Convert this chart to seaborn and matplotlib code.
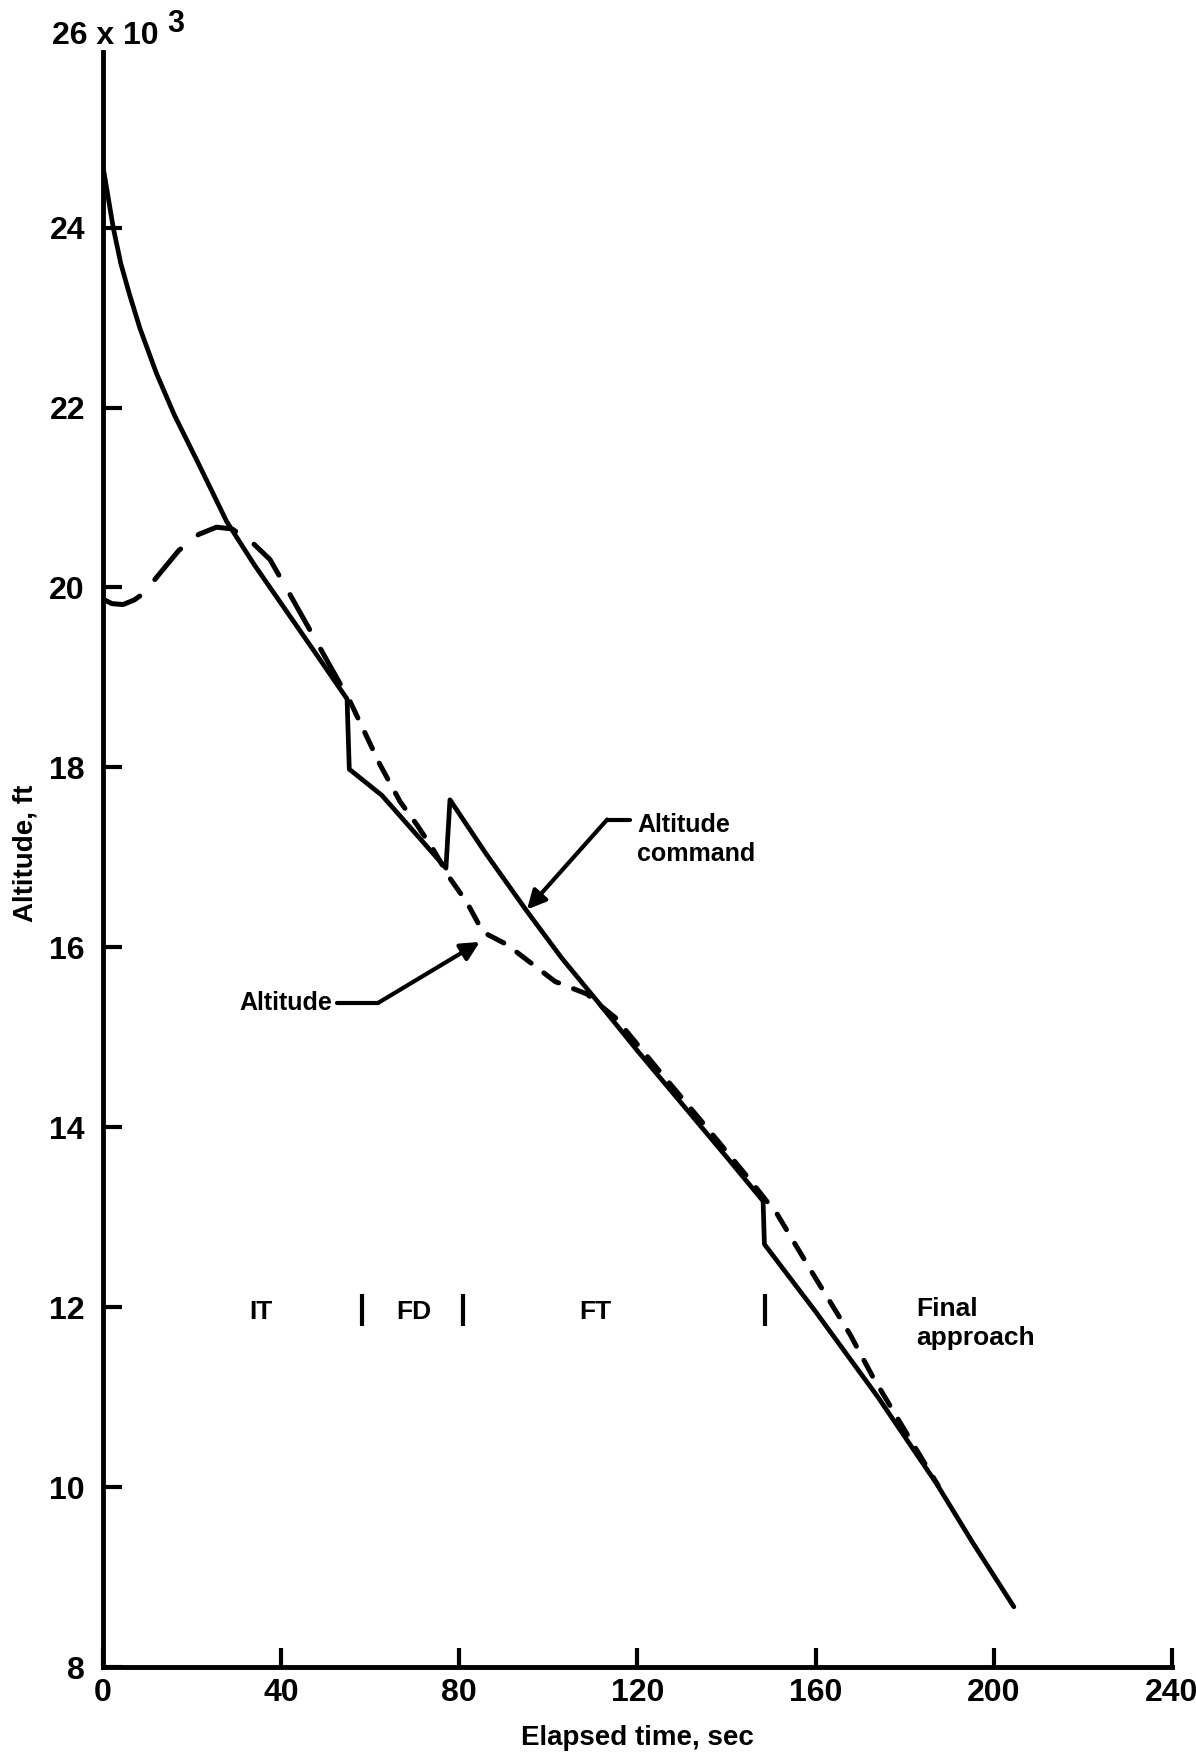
import matplotlib
matplotlib.use("Agg")
import matplotlib.pyplot as plt
import seaborn as sns

# elapsed time (sec) and altitude (thousands of ft)
cmd_time = [0.2, 2.3, 4, 6, 8.3, 12, 16, 21.8, 27.8, 34, 41, 48, 54.8, 55.3,
            62.6, 69.2, 77.0, 77.9, 86, 95.2, 103, 111, 120, 130, 140, 148.2,
            148.5, 160, 174, 187, 195.3, 204.5]
cmd_alt = [24.62, 24.0, 23.6, 23.25, 22.88, 22.38, 21.92, 21.34, 20.73, 20.25,
           19.75, 19.25, 18.76, 17.98, 17.69, 17.32, 16.88, 17.64, 17.04, 16.40,
           15.88, 15.40, 14.85, 14.26, 13.67, 13.18, 12.70, 11.95, 11.0, 10.05,
           9.38, 8.67]

alt_time = [0, 2, 4.5, 7, 9, 13, 17, 21.5, 25.5, 29, 33.5, 37.5, 42, 55.5,
            62.2, 66.7, 70.5, 74, 78, 81.7, 85.3, 90.7, 96.5, 101.5, 108.7, 111,
            115, 125, 135, 145, 149, 151.3, 159.4, 167.7, 172.9, 181, 187.5]
alt_alt = [19.87, 19.82, 19.81, 19.86, 19.93, 20.17, 20.41, 20.59, 20.67, 20.65,
           20.5, 20.31, 19.92, 18.73, 18.03, 17.62, 17.36, 17.1, 16.76, 16.5,
           16.17, 16.03, 15.81, 15.62, 15.48, 15.38, 15.22, 14.62, 14.03, 13.43,
           13.18, 13.04, 12.37, 11.70, 11.22, 10.55, 10.02]
split = 13  # long dashes up to t = 55.5, shorter after

phase_names = ["IT", "FD", "FT", "Final\napproach"]
phase_pos = [35.5, 69.8, 110.5, 182.5]
phase_marks = [58.2, 80.8, 148.6]

x_ticks = [0, 40, 80, 120, 160, 200, 240]
y_ticks = [8, 10, 12, 14, 16, 18, 20, 22, 24]

sns.set_style("white")
plt.rcParams["font.family"] = ["Liberation Sans", "DejaVu Sans"]
plt.rcParams["font.weight"] = "bold"
plt.rcParams["text.color"] = "black"
plt.rcParams["xtick.color"] = "black"
plt.rcParams["ytick.color"] = "black"
plt.rcParams["axes.labelcolor"] = "black"

fig = plt.figure(figsize=(11.96, 17.55), dpi=100)
ax = fig.add_axes([0.0861, 0.0501, 0.8938, 0.9202])

# altitude command (solid) and altitude (dashed)
sns.lineplot(x=cmd_time, y=cmd_alt, sort=False, estimator=None, color="black",
             lw=3.4, ax=ax)
sns.lineplot(x=alt_time[:split + 1], y=alt_alt[:split + 1], sort=False,
             estimator=None, color="black", lw=3.6, ax=ax,
             linestyle=(0, (8, 4.5)), dash_capstyle="round")
sns.lineplot(x=alt_time[split:], y=alt_alt[split:], sort=False,
             estimator=None, color="black", lw=3.6, ax=ax,
             linestyle=(0, (3.6, 3.2)), dash_capstyle="round")

ax.set_xlim(0, 240)
ax.set_ylim(8, 25.95)
sns.despine(ax=ax)
for s in ["left", "bottom"]:
    ax.spines[s].set_linewidth(3.5)
    ax.spines[s].set_color("black")

ax.set_xticks(x_ticks)
ax.set_yticks(y_ticks)
ax.tick_params(direction="in", length=14, width=3, labelsize=23,
               bottom=True, left=True, colors="black")
ax.tick_params(axis="y", pad=13)
ax.tick_params(axis="x", pad=8)

ax.set_xlabel("Elapsed time, sec", fontsize=20, fontweight="bold", labelpad=12)
ax.set_ylabel("Altitude, ft", fontsize=20, fontweight="bold")
ax.yaxis.set_label_coords(-0.06, 0.504)

fig.text(52 / 1196, 1 - 36 / 1755, "26 x 10", fontsize=23, fontweight="bold",
         ha="left", va="center")
fig.text(167 / 1196, 1 - 24 / 1755, "3", fontsize=22, fontweight="bold",
         ha="left", va="center")

# phase labels along 12,000 ft
for name, pos in zip(phase_names, phase_pos):
    if "\n" in name:
        ax.text(pos, 11.82, name, fontsize=19, ha="left", va="center",
                linespacing=1.25)
    else:
        ax.text(pos, 11.95, name, fontsize=19, ha="center", va="center")
ax.vlines(phase_marks, 11.79, 12.15, color="black", lw=3)

# callouts
arrow = dict(arrowstyle="-|>", color="black", lw=3, mutation_scale=28,
             shrinkA=0, shrinkB=0)
ax.text(120, 17.2, "Altitude\ncommand", fontsize=18, ha="left", va="center",
        linespacing=1.25)
ax.plot([118.3, 113.2], [17.42, 17.42], color="black", lw=3)
ax.annotate("", xy=(95.2, 16.42), xytext=(113.2, 17.42), arrowprops=arrow)

ax.text(51.5, 15.38, "Altitude", fontsize=18, ha="right", va="center")
ax.plot([52.5, 61.7], [15.38, 15.38], color="black", lw=3)
ax.annotate("", xy=(84.6, 16.06), xytext=(61.7, 15.38), arrowprops=arrow)

fig.savefig("out.png", dpi=100)
